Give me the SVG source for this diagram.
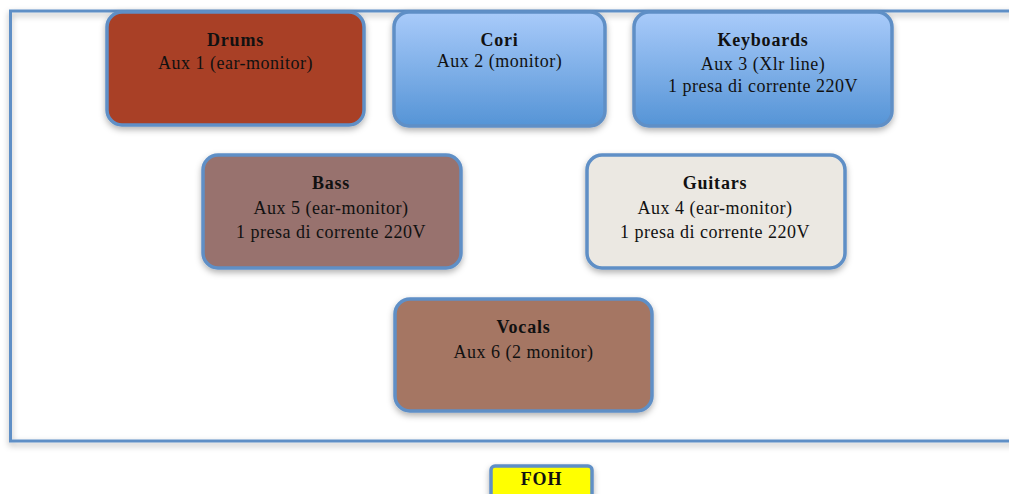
<svg xmlns="http://www.w3.org/2000/svg" width="1009" height="494" viewBox="0 0 1009 494">
<defs>
<linearGradient id="blue" x1="0" y1="0" x2="0" y2="1">
<stop offset="0" stop-color="#a9cbfa"/>
<stop offset="1" stop-color="#5594d6"/>
</linearGradient>
<filter id="sh" x="-10%" y="-10%" width="120%" height="130%">
<feDropShadow dx="0" dy="3" stdDeviation="3" flood-color="#000" flood-opacity="0.3"/>
</filter>
</defs>
<style>
.box{stroke:#5f8fc6;stroke-width:3.5;filter:url(#sh)}
.t{font-family:"Liberation Serif",serif;font-size:18px;letter-spacing:0.5px;fill:#111;text-anchor:middle}
.b{font-weight:bold;letter-spacing:0.8px}
</style>
<rect width="1009" height="494" fill="#fff"/>
<g id="frame">
<rect x="10.5" y="11" width="1010" height="430" fill="none" stroke="#5f8fc6" stroke-width="3" filter="url(#sh)"/>
</g>
<g id="drums">
<rect class="box" x="107" y="12" width="257" height="113" rx="15" fill="#a93f28"/>
<text class="t b" x="235.5" y="46">Drums</text>
<text class="t" x="235.5" y="69">Aux 1 (ear-monitor)</text>
</g>
<g id="cori">
<rect class="box" x="394" y="12" width="211" height="114" rx="15" fill="url(#blue)"/>
<text class="t b" x="499.5" y="46">Cori</text>
<text class="t" x="499.5" y="67">Aux 2 (monitor)</text>
</g>
<g id="keyboards">
<rect class="box" x="634" y="12" width="258" height="114" rx="15" fill="url(#blue)"/>
<text class="t b" x="763" y="46">Keyboards</text>
<text class="t" x="763" y="70">Aux 3 (Xlr line)</text>
<text class="t" x="763" y="92">1 presa di corrente 220V</text>
</g>
<g id="bass">
<rect class="box" x="203" y="155" width="258" height="113" rx="15" fill="#98726e"/>
<text class="t b" x="331" y="189">Bass</text>
<text class="t" x="331" y="214">Aux 5 (ear-monitor)</text>
<text class="t" x="331" y="238">1 presa di corrente 220V</text>
</g>
<g id="guitars">
<rect class="box" x="587" y="155" width="258" height="113" rx="15" fill="#ebe8e2"/>
<text class="t b" x="715" y="189">Guitars</text>
<text class="t" x="715" y="214">Aux 4 (ear-monitor)</text>
<text class="t" x="715" y="238">1 presa di corrente 220V</text>
</g>
<g id="vocals">
<rect class="box" x="395" y="299" width="257" height="112" rx="15" fill="#a57663"/>
<text class="t b" x="523.5" y="333">Vocals</text>
<text class="t" x="523.5" y="358">Aux 6 (2 monitor)</text>
</g>
<g id="foh">
<rect class="box" x="491" y="466" width="101" height="34" rx="4" fill="#ffff00"/>
<text class="t b" x="541.5" y="485">FOH</text>
</g>
<g id="connectors"></g>
</svg>
